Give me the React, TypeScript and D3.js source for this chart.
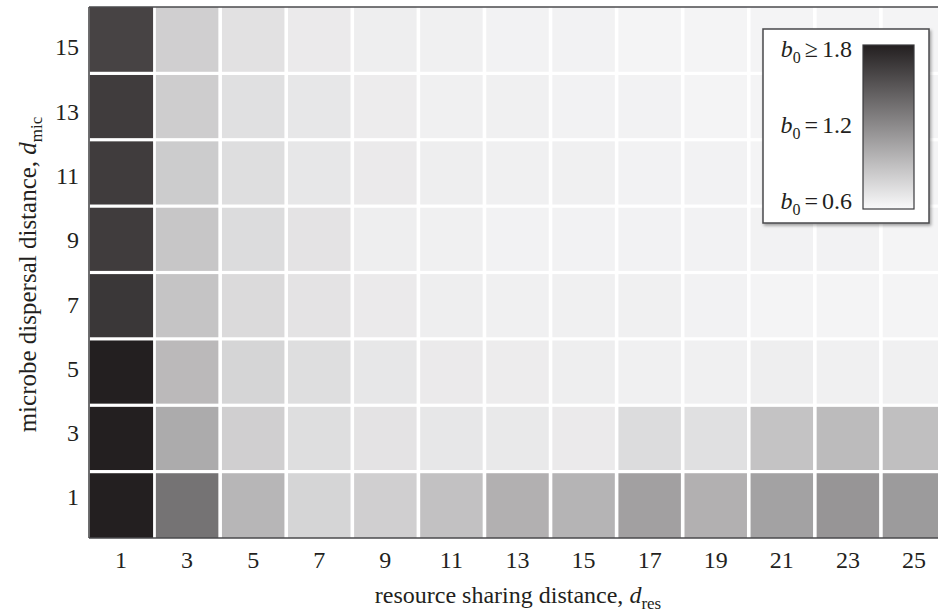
import React from 'react'
import * as d3 from 'd3'

// resource sharing distance (columns) and microbe dispersal distance (rows)
const dRes = [1, 3, 5, 7, 9, 11, 13, 15, 17, 19, 21, 23, 25]
const dMic = [15, 13, 11, 9, 7, 5, 3, 1]

// b0 per row, top row (d_mic = 15) first, columns in dRes order
const row15 = [1.6, 0.83, 0.73, 0.68, 0.66, 0.65, 0.64, 0.64, 0.63, 0.63, 0.63, 0.63, 0.63]
const row13 = [1.64, 0.84, 0.74, 0.7, 0.67, 0.65, 0.65, 0.64, 0.64, 0.63, 0.63, 0.63, 0.63]
const row11 = [1.64, 0.85, 0.75, 0.7, 0.68, 0.66, 0.65, 0.65, 0.64, 0.64, 0.63, 0.63, 0.63]
const row9 = [1.64, 0.88, 0.76, 0.72, 0.66, 0.65, 0.64, 0.64, 0.64, 0.64, 0.64, 0.64, 0.63]
const row7 = [1.67, 0.89, 0.77, 0.72, 0.68, 0.66, 0.65, 0.65, 0.65, 0.64, 0.63, 0.63, 0.63]
const row5 = [1.86, 0.95, 0.8, 0.75, 0.7, 0.68, 0.67, 0.66, 0.65, 0.65, 0.66, 0.65, 0.65]
const row3 = [1.97, 1.03, 0.83, 0.75, 0.72, 0.7, 0.69, 0.68, 0.76, 0.74, 0.9, 0.94, 0.92]
const row1 = [2.05, 1.34, 0.97, 0.8, 0.83, 0.91, 1.0, 0.98, 1.09, 1.0, 1.08, 1.15, 1.12]
const rows = [row15, row13, row11, row9, row7, row5, row3, row1]

const legendTicks = [
  { sym: '\u2265', v: '1.8' },
  { sym: '=', v: '1.2' },
  { sym: '=', v: '0.6' },
]

const W = 938
const H = 614
const serif = "'Liberation Serif', 'DejaVu Serif', serif"
const ink = '#231f20'

const App = () => {
  const left = 89
  const top = 7
  const bottom = 538

  const x = d3.scaleBand<number>().domain(dRes).range([88, 947])
  const y = d3.scaleBand<number>().domain(dMic).range([top, bottom])
  // tick labels sit a bit off the row centres in the original
  const yLab = d3.scalePoint<number>().domain(dMic).range([47, 497])

  const color = d3
    .scaleLinear<string>()
    .domain([0.6, 1.8])
    .range(['#f9f9fa', ink])
    .clamp(true)

  const cells = rows.flatMap((r, i) => r.map((v, j) => ({ mic: dMic[i], res: dRes[j], v })))
  const gx = 1.8
  const gy = 1.6

  // legend
  const lg = { x: 763, y: 29, w: 166, h: 194 }
  const bar = { x: 863, y: 45, w: 51, h: 164 }
  const lgY = d3.scaleLinear().domain([0, 2]).range([57, 209])

  return (
    <svg width={W} height={H} style={{ position: 'absolute', left: 0, top: 0, background: '#fff' }} fontFamily={serif}>
      <defs>
        <linearGradient id='b0grad' x1='0' y1='1' x2='0' y2='0'>
          {d3.range(0, 1.01, 0.25).map((t) => (
            <stop key={t} offset={t} stopColor={color(0.6 + t * 1.2)} />
          ))}
        </linearGradient>
        <filter id='shadow' x='-10%' y='-10%' width='130%' height='130%'>
          <feDropShadow dx='1.5' dy='2' stdDeviation='1.5' floodColor='#000' floodOpacity='0.35' />
        </filter>
      </defs>

      <rect x={left} y={top} width={W - left} height={bottom - top} fill='#fff' />
      <g>
        {cells.map((c) => (
          <rect
            key={`${c.mic}-${c.res}`}
            x={Math.max(left, x(c.res)! + gx)}
            y={y(c.mic)! + (c.mic === 15 ? 0 : gy)}
            width={x.bandwidth() - 2 * gx - (c.res === 1 ? left - x(c.res)! - gx : 0)}
            height={y.bandwidth() - (c.mic === 15 ? gy : 2 * gy) + (c.mic === 1 ? gy : 0)}
            fill={color(c.v)}
          />
        ))}
      </g>

      {/* frame */}
      <g stroke='#4a4a4c' strokeWidth={1.6}>
        <line x1={left} x2={W} y1={top} y2={top} />
        <line x1={left} x2={W} y1={bottom} y2={bottom} />
        <line x1={left} x2={left} y1={top} y2={bottom} />
      </g>

      {/* ticks */}
      <g fontSize={24} fill={ink}>
        {dRes.map((d) => (
          <text key={d} x={x(d)! + x.bandwidth() / 2} y={568} textAnchor='middle'>
            {d}
          </text>
        ))}
        {dMic.map((d) => (
          <text key={d} x={79} y={yLab(d)} dy='0.35em' textAnchor='end'>
            {d}
          </text>
        ))}
      </g>

      {/* axis titles */}
      <text x={518} y={603} fontSize={24} textAnchor='middle' fill={ink}>
        resource sharing distance,{' '}
        <tspan fontStyle='italic'>d</tspan>
        <tspan fontSize={17} dy={6}>
          res
        </tspan>
      </text>
      <text
        transform={`translate(36, ${(top + bottom) / 2 + 2}) rotate(-90)`}
        fontSize={25}
        textAnchor='middle'
        fill={ink}
      >
        microbe dispersal distance,{' '}
        <tspan fontStyle='italic'>d</tspan>
        <tspan fontSize={17} dy={6}>
          mic
        </tspan>
      </text>

      {/* legend */}
      <rect x={lg.x} y={lg.y} width={lg.w} height={lg.h} fill='#fff' stroke='#4a4a4c' strokeWidth={1.5} filter='url(#shadow)' />
      <rect x={bar.x} y={bar.y} width={bar.w} height={bar.h} fill='url(#b0grad)' stroke='#3a3a3c' strokeWidth={1.2} />
      <g fontSize={24} fill={ink}>
        {legendTicks.map((t, i) => (
          <text key={t.v} x={852} y={lgY(i)} textAnchor='end'>
            <tspan fontStyle='italic'>b</tspan>
            <tspan fontSize={16} dy={6}>
              0
            </tspan>
            <tspan dy={-6} dx={4}>
              {t.sym}
            </tspan>
            <tspan dx={4}>{t.v}</tspan>
          </text>
        ))}
      </g>
    </svg>
  )
}

export default App
